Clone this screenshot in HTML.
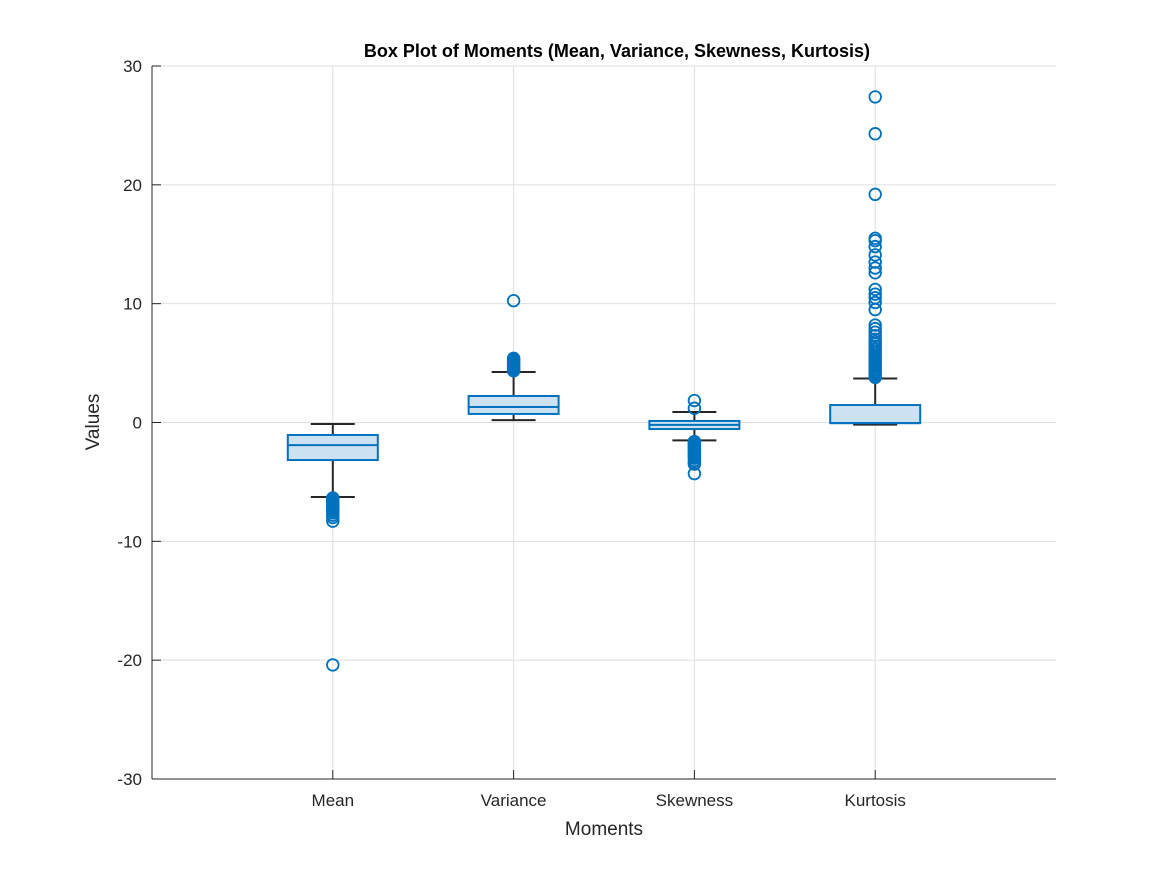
<!DOCTYPE html>
<html><head><meta charset="utf-8"><style>
body{margin:0;background:#fff;font-family:"Liberation Sans",sans-serif}
</style></head><body>
<svg id="chart" width="1167" height="875" xmlns="http://www.w3.org/2000/svg">
<rect width="1167" height="875" fill="#fff"/>
<g id="grid"></g>
<g id="marks"></g>
<line x1="152" y1="66" x2="152" y2="779" stroke="#262626"/>
<line x1="152" y1="779" x2="1056" y2="779" stroke="#262626"/>
<g id="ticks" font-size="17" fill="#262626"></g>
<text x="617" y="57" text-anchor="middle" font-weight="bold" font-size="18" fill="#000">Box Plot of Moments (Mean, Variance, Skewness, Kurtosis)</text>
<text x="604" y="835" text-anchor="middle" font-size="19" fill="#262626">Moments</text>
<text transform="translate(99,422) rotate(-90)" text-anchor="middle" font-size="19" fill="#262626">Values</text>
</svg>
<script>
const categories=["Mean","Variance","Skewness","Kurtosis"];
const q1=[-3.16,0.72,-0.55,-0.05];
const median=[-1.9,1.3,-0.2,-0.05];
const q3=[-1.05,2.23,0.13,1.47];
const whiskerLow=[-6.27,0.2,-1.5,-0.18];
const whiskerHigh=[-0.13,4.25,0.88,3.7];
const outliersMean=[-6.35,-6.45,-6.55,-6.65,-6.75,-6.85,-6.95,-7.05,-7.15,-7.25,-7.35,-7.45,-7.6,-7.8,-8.0,-8.3,-20.4];
const outliersVariance=[4.35,4.45,4.55,4.65,4.75,4.85,4.95,5.05,5.15,5.25,5.35,5.4,10.25];
const outliersSkewness=[1.2,1.85,-1.6,-1.7,-1.8,-1.9,-2.0,-2.1,-2.2,-2.3,-2.4,-2.5,-2.6,-2.7,-2.8,-2.9,-3.0,-3.2,-3.4,-3.5,-4.3];
const outliersKurtosis=[3.8,3.95,4.1,4.25,4.4,4.55,4.7,4.85,5.0,5.15,5.3,5.45,5.6,5.8,6.0,6.2,6.4,6.6,6.8,7.0,7.3,7.6,7.9,8.2,9.5,10.1,10.5,10.8,11.2,12.6,13.0,13.5,14.1,14.8,15.3,15.5,19.2,24.3,27.4];
const yTicks=[-30,-20,-10,0,10,20,30];
const outliers=[outliersMean,outliersVariance,outliersSkewness,outliersKurtosis];
const NS="http://www.w3.org/2000/svg";
const X=v=>152+v*(904/5), Y=v=>422.5-v*(713/60);
function mk(p,t,a){const e=document.createElementNS(NS,t);for(const k in a)e.setAttribute(k,a[k]);p.appendChild(e);return e;}
const grid=document.getElementById('grid'),marks=document.getElementById('marks'),ticks=document.getElementById('ticks');
yTicks.forEach(t=>{
 const l=mk(grid,'line',{x1:152,x2:1056,y1:Y(t),y2:Y(t),stroke:'#dfdfdf'});
 
 const k=mk(ticks,'line',{x1:152,x2:161,y1:Y(t),y2:Y(t),stroke:'#262626'});
 
 const tx=mk(ticks,'text',{x:142,y:Y(t)+6,'text-anchor':'end'});tx.textContent=t;
 
});
categories.forEach((c,i)=>{
 const x=X(i+1);
 const l=mk(grid,'line',{x1:x,x2:x,y1:66,y2:779,stroke:'#dfdfdf'});
 
 const k=mk(ticks,'line',{x1:x,x2:x,y1:779,y2:770,stroke:'#262626'});
 
 const tx=mk(ticks,'text',{x:x,y:806,'text-anchor':'middle'});tx.textContent=c;
 
 const g=mk(marks,'g',{});
 
 const hw=45,cw=22;
 mk(g,'line',{x1:x,x2:x,y1:Y(q3[i]),y2:Y(whiskerHigh[i]),stroke:'#262626','stroke-width':2});
 mk(g,'line',{x1:x,x2:x,y1:Y(q1[i]),y2:Y(whiskerLow[i]),stroke:'#262626','stroke-width':2});
 mk(g,'line',{x1:x-cw,x2:x+cw,y1:Y(whiskerHigh[i]),y2:Y(whiskerHigh[i]),stroke:'#262626','stroke-width':2});
 mk(g,'line',{x1:x-cw,x2:x+cw,y1:Y(whiskerLow[i]),y2:Y(whiskerLow[i]),stroke:'#262626','stroke-width':2});
 mk(g,'rect',{x:x-hw,y:Y(q3[i]),width:2*hw,height:Y(q1[i])-Y(q3[i]),fill:'#cce2f2',stroke:'#0072BD','stroke-width':2});
 mk(g,'line',{x1:x-hw,x2:x+hw,y1:Y(median[i]),y2:Y(median[i]),stroke:'#0072BD','stroke-width':2});
 outliers[i].forEach(v=>{
  const o=mk(g,'circle',{cx:x,cy:Y(v),r:5.8,fill:'none',stroke:'#0072BD','stroke-width':1.8});
  
 });
});
</script>
</body></html>
